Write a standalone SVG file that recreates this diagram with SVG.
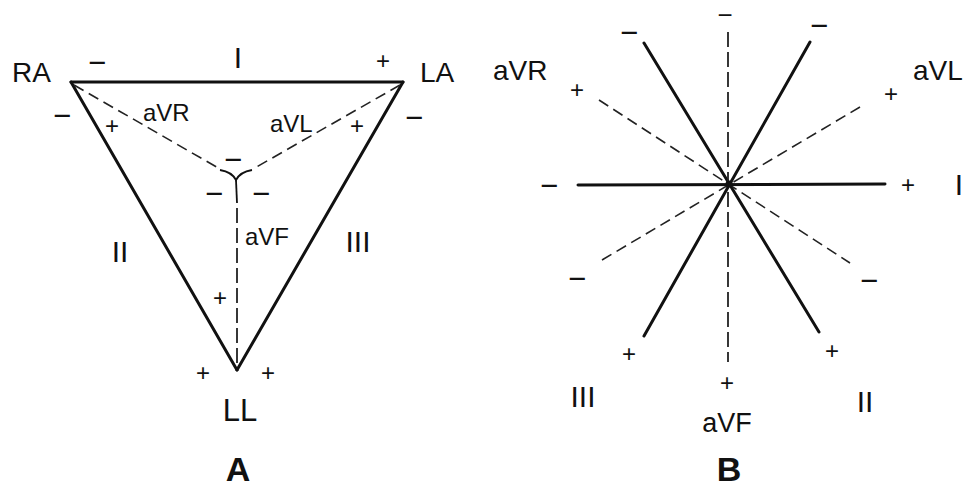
<svg xmlns="http://www.w3.org/2000/svg" width="964" height="489" viewBox="0 0 964 489">
<style>
.bg{fill:#fff}
.solid{stroke:#111;stroke-width:3;fill:none;stroke-linecap:round;stroke-linejoin:round}
.dash{stroke:#222;stroke-width:1.6;fill:none;stroke-dasharray:11 6}
.vdash{stroke:#222;stroke-width:1.8;fill:none;stroke-dasharray:15 5}
.thin{stroke:#111;stroke-width:1.8;fill:none}
text{font-family:"Liberation Sans",Arial,sans-serif;fill:#111}
.lbl{font-size:27px}
.sm{font-size:24px}
.sign{font-size:24px;text-anchor:middle;dominant-baseline:central}
.minus{font-size:31px;text-anchor:middle;dominant-baseline:central}
.rom{font-size:30px;text-anchor:middle}
.big{font-size:34px;font-weight:bold;text-anchor:middle}
</style>
<rect class="bg" x="0" y="0" width="964" height="489"/>

<!-- Panel A -->
<g id="connectors-A">
  <line class="solid" x1="71" y1="82" x2="403" y2="82"/>
  <line class="solid" x1="71" y1="82" x2="237" y2="370"/>
  <line class="solid" x1="403" y1="82" x2="237" y2="370"/>
  <line class="dash" x1="74" y1="85" x2="220" y2="169"/>
  <line class="dash" x1="400" y1="85" x2="253" y2="169"/>
  <path class="thin" d="M220,170 Q232,172 236,180 Q240,172 252,170"/>
  <line class="thin" x1="236" y1="180" x2="237" y2="203"/>
  <line class="vdash" x1="237" y1="208" x2="237" y2="368"/>
</g>
<g id="node-RA"><text x="12" y="82" style="font-size:28px">RA</text></g>
<g id="node-LA"><text x="420" y="82" style="font-size:28px">LA</text></g>
<g id="node-LL"><text x="240" y="421" style="font-size:31px;text-anchor:middle">LL</text></g>
<g id="labels-A">
  <text class="rom" x="238" y="68">I</text>
  <text class="minus" x="97" y="62">−</text>
  <text class="sign" x="383" y="60">+</text>
  <text class="minus" x="62" y="115">−</text>
  <text class="sign" x="112" y="125">+</text>
  <text class="sm" x="143" y="121">aVR</text>
  <text class="sm" x="270" y="132">aVL</text>
  <text class="sign" x="357" y="125">+</text>
  <text class="minus" x="414" y="117">−</text>
  <text class="minus" x="233" y="159">−</text>
  <text class="minus" x="214" y="193">−</text>
  <text class="minus" x="261" y="193">−</text>
  <text class="sm" x="245" y="245">aVF</text>
  <text class="rom" x="120" y="262">II</text>
  <text class="rom" x="358" y="252">III</text>
  <text class="sign" x="220" y="297">+</text>
  <text class="sign" x="203" y="372">+</text>
  <text class="sign" x="268" y="372">+</text>
  <text class="big" x="238" y="481">A</text>
</g>

<!-- Panel B -->
<g id="connectors-B">
  <line class="solid" x1="578" y1="185" x2="885" y2="184"/>
  <line class="solid" x1="644" y1="43" x2="819" y2="332"/>
  <line class="solid" x1="810" y1="42" x2="644" y2="336"/>
  <line class="vdash" x1="728" y1="32" x2="728" y2="362"/>
  <line class="dash" x1="599" y1="100" x2="850" y2="263"/>
  <line class="dash" x1="860" y1="107" x2="602" y2="260"/>
  <circle cx="729" cy="184" r="3.5" fill="#111"/>
</g>
<g id="labels-B">
  <text class="minus" x="725" y="15" style="font-size:26px">−</text>
  <text class="minus" x="629" y="32">−</text>
  <text class="minus" x="819" y="25">−</text>
  <text class="lbl" x="493" y="80" style="font-size:28px">aVR</text>
  <text class="sign" x="577" y="89">+</text>
  <text class="lbl" x="913" y="80" style="font-size:28px">aVL</text>
  <text class="sign" x="891" y="93">+</text>
  <text class="minus" x="549" y="185">−</text>
  <text class="sign" x="908" y="184">+</text>
  <text class="rom" x="959" y="195">I</text>
  <text class="minus" x="577" y="278">−</text>
  <text class="minus" x="869" y="280">−</text>
  <text class="sign" x="629" y="353">+</text>
  <text class="sign" x="832" y="350">+</text>
  <text class="sign" x="727" y="382">+</text>
  <text class="rom" x="583" y="407">III</text>
  <text class="rom" x="865" y="412">II</text>
  <text class="lbl" x="727" y="432" style="text-anchor:middle">aVF</text>
  <text class="big" x="729" y="481">B</text>
</g>
</svg>
